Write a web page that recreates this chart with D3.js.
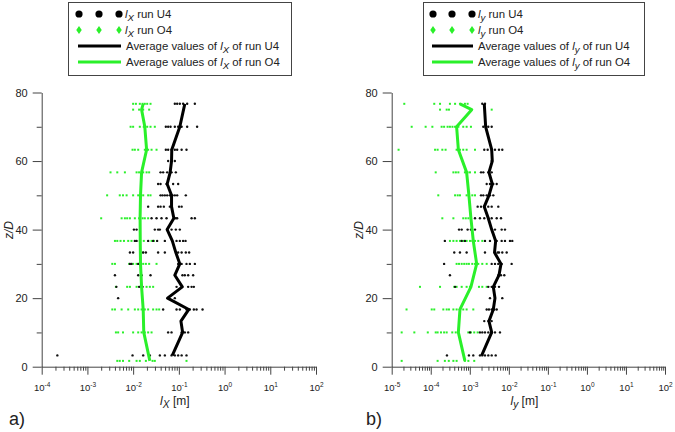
<!DOCTYPE html>
<html><head><meta charset="utf-8">
<script src="https://cdn.jsdelivr.net/npm/d3@7"></script>
<style>
body{margin:0;background:#fff}
svg{display:block}
text{font-family:"Liberation Sans",Arial,sans-serif;fill:#222}
</style>
</head><body>
<svg id="c" width="675" height="432"></svg>
<script>
// ===== DATA =====
const zTicks = [0, 10, 20, 30, 40, 50, 60, 70, 80];
const zLabels = [0, 20, 40, 60, 80];
const lxDecades = [1e-4, 1e-3, 1e-2, 1e-1, 1e0, 1e1, 1e2];
const lyDecades = [1e-5, 1e-4, 1e-3, 1e-2, 1e-1, 1e0, 1e1, 1e2];

// l_X, run U4 (black dots): [z/D, values]
const lxU4Points = [
  [76.7, [0.0817, 0.0918, 0.105, 0.124, 0.152, 0.224]],
  [70.0, [0.0519, 0.0583, 0.0658, 0.0817, 0.0966, 0.115, 0.152, 0.251]],
  [63.3, [0.0519, 0.0583, 0.0692, 0.0817, 0.0918, 0.115, 0.147]],
  [60.0, [0.0583, 0.0817]],
  [56.7, [0.0398, 0.0453, 0.0555, 0.0692, 0.0859]],
  [53.3, [0.0352, 0.0398, 0.0538, 0.075, 0.0966]],
  [50.0, [0.0398, 0.044, 0.0494, 0.0555, 0.0635, 0.0728, 0.0817, 0.0918, 0.142]],
  [46.7, [0.0213, 0.0352, 0.0398, 0.047, 0.0635, 0.101, 0.115]],
  [43.3, [0.0253, 0.0325, 0.0418, 0.0538, 0.0859, 0.0918, 0.19, 0.224]],
  [40.0, [0.0104, 0.0119, 0.0298, 0.0352, 0.0384, 0.0555, 0.0692, 0.0859, 0.105]],
  [36.7, [0.0109, 0.0119, 0.0213, 0.0274, 0.0335, 0.0494, 0.0891, 0.105, 0.124, 0.14]],
  [33.3, [0.0085, 0.01, 0.0166, 0.019, 0.0352, 0.0494, 0.0966, 0.115, 0.142, 0.168]],
  [30.0, [0.0085, 0.0092, 0.0129, 0.014, 0.0966, 0.115, 0.147, 0.174, 0.224]],
  [26.7, [0.004, 0.0129, 0.0153, 0.024, 0.12, 0.135, 0.16, 0.2055]],
  [23.3, [0.0043, 0.0135, 0.0161, 0.0891, 0.16, 0.19, 0.213]],
  [20.0, [0.0047, 0.0817]],
  [16.7, [0.0453, 0.0891, 0.105, 0.147, 0.174, 0.213, 0.244, 0.33]],
  [10.0, [0.0583, 0.0692, 0.115, 0.135, 0.16]],
  [3.3, [0.00022, 0.0097, 0.0166, 0.0232, 0.0384, 0.0494, 0.0692, 0.0817, 0.0966, 0.115, 0.147]]
];
// l_X, run O4 (green dots)
const lxO4Points = [
  [76.7, [0.01, 0.0115, 0.014, 0.0161, 0.018, 0.0203, 0.024]],
  [75.0, [0.01, 0.0135, 0.0166, 0.0224]],
  [70.0, [0.0088, 0.01, 0.014, 0.0171, 0.0203, 0.024, 0.0298]],
  [63.3, [0.0097, 0.0109, 0.0129, 0.018, 0.0213, 0.0253, 0.0325]],
  [56.7, [0.0032, 0.0045, 0.0066, 0.0119, 0.0135, 0.0166, 0.0197, 0.0224]],
  [50.0, [0.0027, 0.0051, 0.006, 0.0072, 0.01, 0.0129, 0.0145, 0.0166, 0.0213, 0.024]],
  [43.3, [0.002, 0.0056, 0.0066, 0.0074, 0.0085, 0.0109, 0.0135, 0.0161, 0.018, 0.0213]],
  [36.7, [0.004, 0.0045, 0.0053, 0.0063, 0.0078, 0.0092, 0.014, 0.0171, 0.0253, 0.0284]],
  [33.3, [0.0163]],
  [30.0, [0.0035, 0.004, 0.0082, 0.01, 0.0119, 0.014, 0.0166, 0.019, 0.0224, 0.0325]],
  [23.3, [0.0042, 0.0074, 0.0085, 0.0119, 0.014, 0.0197, 0.0232, 0.0274]],
  [16.7, [0.0035, 0.004, 0.0056, 0.0078, 0.0109, 0.0129, 0.0153, 0.018, 0.0213, 0.0274, 0.0325, 0.0371]],
  [10.0, [0.0042, 0.0047, 0.006, 0.01, 0.0129, 0.0153, 0.018, 0.0213, 0.0253]],
  [1.7, [0.0045, 0.0051, 0.006, 0.0082, 0.0119, 0.014, 0.019, 0.0266, 0.0298, 0.147]]
];
// average l_X
const lxU4Mean = [
  [3.3, 0.072], [10, 0.121], [13.3, 0.111], [16.7, 0.165], [20, 0.0566], [23.3, 0.119],
  [26.7, 0.0817], [30, 0.105], [33.3, 0.0859], [36.7, 0.072], [40, 0.0555], [43.3, 0.0777],
  [46.7, 0.0692], [50, 0.0692], [53.3, 0.0555], [56.7, 0.0645], [60, 0.0692], [63.3, 0.070],
  [70, 0.105], [76.7, 0.135]
];
const lxO4Mean = [
  [1.7, 0.0232], [10, 0.0171], [16.7, 0.0166], [23.3, 0.0153], [30, 0.0145], [36.7, 0.0143],
  [43.3, 0.0142], [50, 0.0145], [56.7, 0.0153], [63.3, 0.0197], [70, 0.018], [75, 0.0153], [76.7, 0.0166]
];

// l_y, run U4 (black dots)
const lyU4Points = [
  [76.7, [0.00209, 0.00245]],
  [70.0, [0.00222, 0.00298, 0.00364]],
  [63.3, [0.00235, 0.00287, 0.00364, 0.00442, 0.0056, 0.0068]],
  [60.0, [0.00364]],
  [56.7, [0.00194, 0.00222, 0.00298, 0.00364]],
  [53.3, [0.00271, 0.00329, 0.004, 0.00489]],
  [50.0, [0.00194, 0.00222, 0.00271, 0.00329, 0.004]],
  [46.7, [0.00159, 0.00194, 0.00235, 0.00298, 0.00364, 0.00537]],
  [43.3, [0.00136, 0.00182, 0.00235, 0.00298, 0.00364, 0.00489, 0.0063]],
  [40.0, [0.00053, 0.00062, 0.00088, 0.00107, 0.00136, 0.00442, 0.00656, 0.00797]],
  [36.7, [0.00023, 0.00062, 0.00075, 0.00245, 0.00329, 0.00489, 0.00656, 0.00797, 0.0107, 0.01225]],
  [33.3, [0.0004, 0.00056, 0.00083, 0.00245, 0.00518, 0.0056, 0.0068, 0.00881]],
  [30.0, [0.00022, 0.00364, 0.00442, 0.00537, 0.00656, 0.0118]],
  [26.7, [0.00031, 0.00537, 0.0063, 0.00765]],
  [23.3, [0.00042, 0.00298, 0.00364, 0.00442, 0.0056]],
  [20.0, [0.00329, 0.0068]],
  [16.7, [0.00056, 0.00271, 0.0031, 0.00364, 0.00424, 0.00489]],
  [13.3, [0.00235, 0.00298, 0.00364]],
  [10.0, [0.00101, 0.00182, 0.00209, 0.00245, 0.00298, 0.00364, 0.00442, 0.00593]],
  [3.3, [0.00026, 0.00095, 0.00123, 0.00182, 0.00209, 0.00245, 0.00298, 0.00364, 0.00461]]
];
// l_y, run O4 (green dots)
const lyO4Points = [
  [76.7, [2.1e-5, 1.23e-4, 1.73e-4, 3.1e-4, 4.2e-4, 5.6e-4, 7.5e-4, 8.8e-4]],
  [75.0, [1.73e-4, 2.56e-4, 2.93e-4, 3.64e-3]],
  [70.0, [3.25e-5, 7.4e-5, 1.1e-4, 1.9e-4, 2.2e-4, 2.7e-4, 3.1e-4, 3.6e-4, 4.2e-4, 5.1e-4, 6.8e-4, 8.3e-4, 1.07e-3]],
  [63.3, [1.5e-5, 1.29e-4, 1.5e-4, 1.98e-4, 2.4e-4, 4.6e-4, 5.6e-4, 6.8e-4, 8.3e-4, 1.36e-3]],
  [56.7, [1.34e-4, 3.8e-4, 4.4e-4, 5.1e-4, 7.5e-4, 8.8e-4, 1.01e-3, 1.36e-3]],
  [50.0, [1.56e-4, 4.2e-4, 4.9e-4, 5.6e-4, 8.3e-4, 9.5e-4, 1.16e-3, 1.36e-3]],
  [43.3, [1.98e-4, 3.8e-4, 6.8e-4, 7.9e-4, 9.2e-4, 1.07e-3]],
  [36.7, [3.1e-4, 3.8e-4, 4.6e-4, 5.6e-4, 6.8e-4, 8.3e-4, 1.01e-3, 1.16e-3, 1.36e-3, 1.65e-3, 2.09e-3]],
  [30.0, [4.6e-4, 5.3e-4, 6.2e-4, 7.2e-4, 8.3e-4, 9.5e-4, 1.16e-3, 1.36e-3, 1.65e-3, 2.09e-3, 2.71e-3]],
  [23.3, [5.3e-5, 1.73e-4, 4.0e-4, 4.6e-4, 6.2e-4, 8.3e-4, 1.01e-3, 1.72e-3, 2.09e-3, 2.71e-3]],
  [16.7, [2.4e-5, 1.06e-4, 1.23e-4, 2.1e-4, 2.56e-4, 2.93e-4, 3.8e-4, 4.6e-4, 6.8e-4, 8.3e-4, 1.23e-3]],
  [10.0, [1.8e-5, 3.8e-5, 8.4e-5, 1.34e-4, 1.5e-4, 1.83e-4, 2.2e-4, 2.56e-4, 3.56e-4, 4.36e-4, 9.15e-4, 1.07e-3, 1.3e-3, 1.59e-3]],
  [1.7, [1.8e-5, 1.5e-4, 2.3e-4, 2.9e-4, 3.8e-4, 4.6e-4, 7.5e-4, 9.2e-4, 1.3e-3]]
];
// average l_y
const lyU4Mean = [
  [3.3, 2.02e-3], [10, 3.64e-3], [13.3, 3.1e-3], [16.7, 4.0e-3], [20, 4.42e-3], [23.3, 4.0e-3],
  [26.7, 5.6e-3], [30, 6.3e-3], [33.3, 4.3e-3], [36.7, 4.6e-3], [40, 3.64e-3], [43.3, 2.98e-3],
  [46.7, 2.35e-3], [50, 3.1e-3], [53.3, 3.77e-3], [56.7, 3.1e-3], [60, 3.77e-3], [63.3, 3.64e-3],
  [70, 2.55e-3], [76.7, 2.35e-3]
];
const lyO4Mean = [
  [1.7, 7.5e-4], [10, 5.1e-4], [16.7, 5.6e-4], [23.3, 1.07e-3], [30, 1.5e-3], [36.7, 1.23e-3],
  [43.3, 1.07e-3], [50, 9.5e-4], [56.7, 8.3e-4], [63.3, 5.1e-4], [70, 4.6e-4], [75, 1.12e-3], [76.7, 5.6e-4]
];

// ===== DRAWING =====
const svg = d3.select("#c");
const GREEN = "#2af02a";
const AXIS = "#444";

function expLabel(sel, v) {
  const e = Math.round(Math.log10(v));
  sel.text(null);
  sel.append("tspan").text("10");
  sel.append("tspan").attr("dy", -4).attr("font-size", 6.5).text(String(e));
}

function symbol(sel, sub, size) {
  sel.append("tspan").attr("font-style", "italic").text("l");
  sel.append("tspan").attr("font-style", "italic").attr("font-size", size * 0.85)
    .attr("dy", size * 0.25).text(sub);
}

function panel(cfg) {
  const g = svg.append("g");
  const x = d3.scaleLog().domain(cfg.xDomain).range(cfg.xRange);
  const y = d3.scaleLinear().domain([0, 80]).range([366.7, 92.5]);

  // minor x ticks
  const minors = [];
  cfg.decades.slice(0, -1).forEach(d => { for (let k = 2; k <= 9; k++) minors.push(d * k); });
  g.append("g").attr("transform", "translate(0,366.7)")
    .call(d3.axisBottom(x).tickValues(minors).tickSize(4).tickSizeOuter(0).tickFormat(""))
    .call(a => a.select(".domain").remove())
    .call(a => a.selectAll("line").attr("stroke", AXIS));
  // major x ticks
  const xa = g.append("g").attr("transform", "translate(0,366.7)")
    .call(d3.axisBottom(x).tickValues(cfg.decades).tickSize(8).tickSizeOuter(0).tickPadding(10))
    .call(a => a.select(".domain").attr("stroke", AXIS))
    .call(a => a.selectAll("line").attr("stroke", AXIS));
  xa.selectAll(".tick text").attr("font-size", 9.5).attr("fill", "#222")
    .attr("font-family", "Liberation Sans, Arial, sans-serif")
    .each(function(d) { expLabel(d3.select(this), d); });

  // y axis
  const ya = g.append("g").attr("transform", `translate(${cfg.xRange[0]},0)`)
    .call(d3.axisLeft(y).tickValues(zTicks).tickSizeOuter(0).tickPadding(5)
      .tickFormat(d => zLabels.includes(d) ? d : ""))
    .call(a => a.select(".domain").attr("stroke", AXIS))
    .call(a => a.selectAll("line").attr("stroke", AXIS));
  ya.selectAll(".tick line").attr("x2", d => zLabels.includes(d) ? -9 : -5);
  ya.selectAll(".tick text").attr("x", -14).attr("font-size", 11).attr("fill", "#222")
    .attr("font-family", "Liberation Sans, Arial, sans-serif");

  // axis titles
  const xt = g.append("text").attr("x", (cfg.xRange[0] + cfg.xRange[1]) / 2 - 4).attr("y", 405)
    .attr("text-anchor", "middle").attr("font-size", 12);
  symbol(xt, cfg.sub, 12);
  xt.append("tspan").attr("dy", -3).text(" [m]");

  g.append("text").attr("transform", `translate(${cfg.xRange[0] - 29},230) rotate(-90)`)
    .attr("text-anchor", "middle").attr("font-size", 12).attr("font-style", "italic").text("z/D");

  g.append("text").attr("x", cfg.panelX).attr("y", 425).attr("font-size", 18).text(cfg.panelLabel);

  // scatter points
  const flat = arr => arr.flatMap(([z, vals]) => vals.map(v => ({ z, v })));
  g.append("g").selectAll("rect").data(flat(cfg.o4Points)).join("rect")
    .attr("x", d => x(d.v) - 1).attr("y", d => y(d.z) - 1)
    .attr("width", 2).attr("height", 2).attr("fill", GREEN);
  g.append("g").selectAll("circle").data(flat(cfg.u4Points)).join("circle")
    .attr("cx", d => x(d.v)).attr("cy", d => y(d.z)).attr("r", 1.2).attr("fill", "#111");

  // mean lines
  const line = d3.line().x(d => x(d[1])).y(d => y(d[0]));
  g.append("path").datum(cfg.o4Mean).attr("d", line).attr("fill", "none")
    .attr("stroke", GREEN).attr("stroke-width", 3).attr("stroke-linejoin", "round");
  g.append("path").datum(cfg.u4Mean).attr("d", line).attr("fill", "none")
    .attr("stroke", "#000").attr("stroke-width", 3).attr("stroke-linejoin", "round");

  // legend
  const L = cfg.legend;
  const lg = g.append("g");
  lg.append("rect").attr("x", L.x).attr("y", 2.5).attr("width", L.w).attr("height", 73)
    .attr("fill", "#fff").attr("stroke", "#444").attr("stroke-width", 1);
  const rows = [14, 30, 46, 62];
  L.dots.forEach(dx => {
    lg.append("circle").attr("cx", dx).attr("cy", rows[0]).attr("r", 3.6).attr("fill", "#000");
    lg.append("path").attr("d", d3.symbol(d3.symbolDiamond, 26)())
      .attr("transform", `translate(${dx},${rows[1]}) scale(1,0.85)`).attr("fill", GREEN);
  });
  const ts = 11.4;
  const t1 = lg.append("text").attr("x", L.dots[2] + 6).attr("y", rows[0] + 4).attr("font-size", ts);
  symbol(t1, cfg.sub, ts); t1.append("tspan").attr("dy", -ts * 0.25).text(" run U4");
  const t2 = lg.append("text").attr("x", L.dots[2] + 6).attr("y", rows[1] + 4).attr("font-size", ts);
  symbol(t2, cfg.sub, ts); t2.append("tspan").attr("dy", -ts * 0.25).text(" run O4");
  lg.append("line").attr("x1", L.line[0]).attr("x2", L.line[1]).attr("y1", rows[2]).attr("y2", rows[2])
    .attr("stroke", "#000").attr("stroke-width", 3);
  lg.append("line").attr("x1", L.line[0]).attr("x2", L.line[1]).attr("y1", rows[3]).attr("y2", rows[3])
    .attr("stroke", GREEN).attr("stroke-width", 3);
  ["U4", "O4"].forEach((r, i) => {
    const t = lg.append("text").attr("x", L.line[1] + 5).attr("y", rows[2 + i] + 4).attr("font-size", ts);
    t.append("tspan").text("Average values of ");
    symbol(t, cfg.sub, ts);
    t.append("tspan").attr("dy", -ts * 0.25).text(" of run " + r);
  });
}

panel({
  xDomain: [1e-4, 1e2], xRange: [41.7, 316], decades: lxDecades, sub: "X",
  u4Points: lxU4Points, o4Points: lxO4Points, u4Mean: lxU4Mean, o4Mean: lxO4Mean,
  panelLabel: "a)", panelX: 9,
  legend: { x: 68.5, w: 223, dots: [79, 99, 119], line: [78, 121] }
});
panel({
  xDomain: [1e-5, 1e2], xRange: [391.7, 665], decades: lyDecades, sub: "y",
  u4Points: lyU4Points, o4Points: lyO4Points, u4Mean: lyU4Mean, o4Mean: lyO4Mean,
  panelLabel: "b)", panelX: 366,
  legend: { x: 423.5, w: 221, dots: [433, 452, 472], line: [432, 473] }
});
</script>
</body></html>
